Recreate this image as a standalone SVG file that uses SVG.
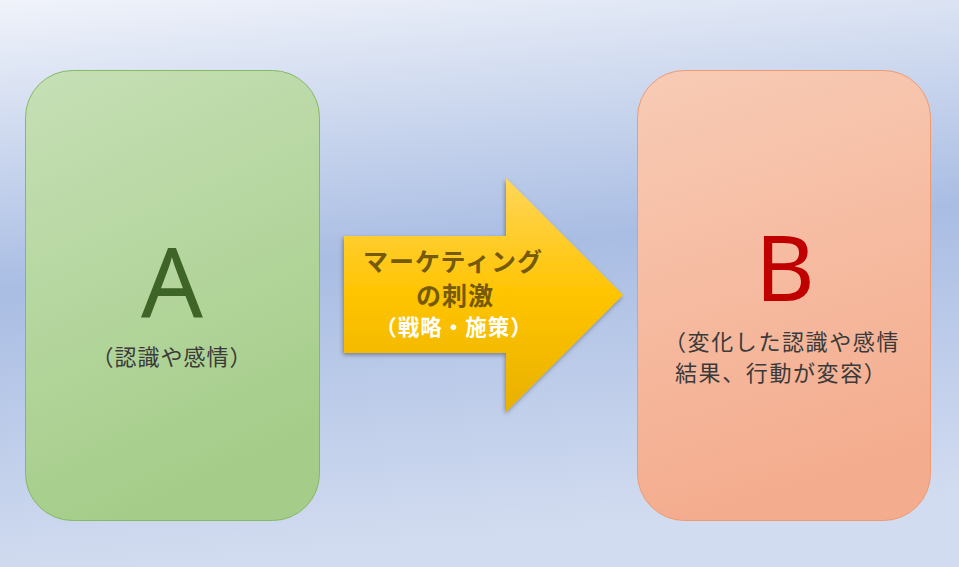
<svg xmlns="http://www.w3.org/2000/svg" width="959" height="567" viewBox="0 0 959 567">
  <defs>
    <linearGradient id="bg" x1="0" y1="0" x2="0.15" y2="1">
      <stop offset="0" stop-color="#f0f3fa"/>
      <stop offset="0.5" stop-color="#a9bde3"/>
      <stop offset="1" stop-color="#d2dcf0"/>
    </linearGradient>
    <linearGradient id="gA" x1="0" y1="0" x2="0.3" y2="1">
      <stop offset="0" stop-color="#c6e0b6"/>
      <stop offset="1" stop-color="#a5cd89"/>
    </linearGradient>
    <linearGradient id="gB" x1="0" y1="0" x2="0.2" y2="1">
      <stop offset="0" stop-color="#f8cbb5"/>
      <stop offset="1" stop-color="#f4ac8e"/>
    </linearGradient>
    <linearGradient id="gArrow" x1="0" y1="0" x2="0" y2="1">
      <stop offset="0" stop-color="#ffd65a"/>
      <stop offset="0.5" stop-color="#ffc400"/>
      <stop offset="1" stop-color="#e8b100"/>
    </linearGradient>
    <filter id="shadow" x="-10%" y="-10%" width="120%" height="130%">
      <feDropShadow dx="-1" dy="2" stdDeviation="2" flood-color="#000" flood-opacity="0.35"/>
    </filter>
  </defs>
  <style>
    .big { font-family: "Noto Sans", "Open Sans", sans-serif; text-anchor: middle; }
    .jp { font-family: "Noto Sans CJK JP", sans-serif; }
    .sub { font-size: 22px; fill: #3a3a3a; }
    .arrowtxt { font-weight: bold; text-anchor: middle; }
  </style>
  <rect width="959" height="567" fill="url(#bg)"/>

  <g id="nodeA">
    <rect x="25.5" y="70.5" width="294" height="450" rx="47" ry="47" fill="url(#gA)" stroke="#86b866" stroke-width="1"/>
    <text class="big" x="172" y="317" font-size="97" fill="#3f6428">A</text>
    <text class="jp sub" x="172" y="365" text-anchor="middle" letter-spacing="1">（認識や感情）</text>
  </g>

  <g id="connectors">
    <g id="stimulus">
      <path d="M344,236 L506,236 L506,178 L623,295 L506,412 L506,353 L344,353 Z" fill="url(#gArrow)" filter="url(#shadow)"/>
      <text class="jp arrowtxt" x="453" y="271" font-size="25" letter-spacing="1" fill="#755a0c">マーケティング</text>
      <text class="jp arrowtxt" x="455" y="305" font-size="25" letter-spacing="1" fill="#755a0c">の刺激</text>
      <text class="jp arrowtxt" x="454" y="335" font-size="21.5" letter-spacing="1" fill="#ffffff">（戦略・施策）</text>
    </g>
  </g>

  <g id="nodeB">
    <rect x="637.5" y="70.5" width="293" height="450" rx="47" ry="47" fill="url(#gB)" stroke="#ee9b72" stroke-width="1"/>
    <text class="big" x="785" y="301" font-size="92" fill="#c00000">B</text>
    <text class="jp sub" x="664" y="350" letter-spacing="1.6">（変化した認識や感情</text>
    <text class="jp sub" x="675" y="381" letter-spacing="1.6">結果、行動が変容）</text>
  </g>
</svg>
